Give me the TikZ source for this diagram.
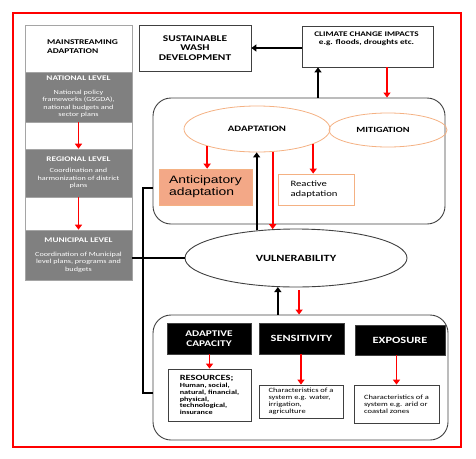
\documentclass[tikz,border=0pt]{standalone}
\usepackage{fontspec}
\setmainfont{Carlito}[FakeStretch=1.3]
\newfontfamily\arialx{Liberation Sans}[FakeStretch=1.3]
\usetikzlibrary{arrows.meta,shapes.geometric,calc}
\definecolor{redc}{RGB}{255,0,0}
\definecolor{grayfill}{RGB}{128,128,128}
\definecolor{graybd}{RGB}{165,165,165}
\definecolor{orangebd}{RGB}{244,177,131}
\definecolor{salmon}{RGB}{243,168,135}
\definecolor{darkbd}{RGB}{64,64,64}
\newcommand\fz[2]{\fontsize{#1}{#2}\selectfont}
\begin{document}
\begin{tikzpicture}[x=1pt,y=-1pt,
  redarr/.style={draw=redc,line width=1.8pt,-{Triangle[length=5pt,width=7pt]}},
  blkarr/.style={draw=black,line width=2pt,-{Triangle[length=5pt,width=7pt]}},
  blkline/.style={draw=black,line width=2pt},
  levelbox/.style={fill=grayfill,draw=graybd,line width=0.6pt,minimum width=107,minimum height=#1,inner sep=0,text=white,align=center,font=\fz{6.3}{7.5}},
  wbox/.style={draw=darkbd,line width=0.8pt,inner sep=0,fill=white},
  roundbox/.style={draw=darkbd,line width=0.9pt,rounded corners=18,inner sep=0},
  oell/.style={ellipse,draw=orangebd,line width=0.8pt,inner sep=0,font=\fz{8.3}{10}\bfseries},
  blackbox/.style={fill=black,draw=darkbd,text=white,inner sep=0,align=center,font=\fz{8.7}{10}\bfseries},
  txtbox/.style={draw=darkbd,line width=0.8pt,inner sep=0,align=left},
]
\path[use as bounding box] (0,0) rectangle (476,458);
\draw[redc,line width=2pt] (13,13) rectangle (461,447);

% left column
\node[draw=graybd,line width=0.8pt,minimum width=107,minimum height=255,inner sep=0] (col) at (78.5,152.5) {};
\node[anchor=west,align=left,inner sep=0,font=\fz{7.3}{9}\bfseries] (mainhdr) at (47,46.5) {MAINSTREAMING\\ADAPTATION};
\node[levelbox=50] (natl) at (78.5,97) {{\fz{7.1}{8}\bfseries NATIONAL LEVEL}\\[6pt]National policy\\frameworks (GSGDA),\\national budgets and\\sector plans};
\node[levelbox=48] (regl) at (78.5,173) {{\fz{7.1}{8}\bfseries REGIONAL LEVEL}\\[3.5pt]Coordination and\\harmonization of district\\plans};
\node[levelbox=50] (muni) at (78.5,255) {{\fz{7.1}{8}\bfseries MUNICIPAL LEVEL}\\[6pt]Coordination of Municipal\\level plans, programs and\\budgets};
\draw[redarr] (natl.south) -- (regl.north);
\draw[redarr] (regl.south) -- (muni.north);

% top boxes
\node[wbox,minimum width=112,minimum height=46,align=center,font=\fz{8.8}{9.7}\bfseries] (wash) at (195,48) {SUSTAINABLE\\WASH\\DEVELOPMENT};
\node[wbox,minimum width=131,minimum height=41] (climate) at (367.5,46.5) {};
\node[inner sep=0,align=center,font=\fz{7.1}{8}\bfseries] (climtxt) at (366.5,39) {CLIMATE CHANGE IMPACTS\\e.g. floods, droughts etc.};
\draw[blkarr] (climate.west |- wash.east) -- (wash.east);

% adaptation box
\node[roundbox,minimum width=292,minimum height=126] (bigbox) at (299,161) {};
\draw[blkarr] ([xshift=-49.5pt]climate.south |- bigbox.north) -- ([xshift=-49.5pt]climate.south);
\draw[redarr] ([xshift=19.5pt]climate.south) -- ([xshift=19.5pt]climate.south |- bigbox.north);

\node[oell,minimum width=146,minimum height=46] (adapt) at (257,129) {ADAPTATION};
\node[oell,minimum width=118,minimum height=34,font=\fz{7.9}{9}\bfseries] (mitig) at (388,130) {\hspace*{-10pt}MITIGATION};
\node[fill=salmon,draw=orangebd,line width=0.6pt,minimum width=93,minimum height=36,inner sep=0,align=left,font=\arialx\fz{10.7}{12}] (antic) at (205.5,187) {Anticipatory\\adaptation};
\node[draw=orangebd,line width=0.8pt,fill=white,minimum width=76,minimum height=31,inner sep=0,align=left,font=\fz{8.2}{10}] (react) at (316,189.5) {\hspace*{-4pt}Reactive\\\hspace*{-4pt}adaptation};
\draw[redarr] (adapt.199) -- (adapt.199 |- antic.north);
\draw[redarr] (adapt.345) -- (adapt.345 |- react.north);

% vulnerability
\node[ellipse,draw=darkbd,line width=0.9pt,minimum width=222,minimum height=58,inner sep=0,font=\fz{9.5}{11}\bfseries] (vuln) at (296,258) {VULNERABILITY};
\draw[blkarr] (vuln.145) -- (vuln.145 |- adapt.south);
\draw[redarr] (vuln.129 |- adapt.south) -- (vuln.129);

% bottom box
\node[roundbox,minimum width=295,minimum height=125] (bottom) at (300.5,377.5) {};
\draw[blkarr] (vuln.238 |- bottom.north) -- (vuln.238);
\draw[redarr] ([yshift=-3pt]vuln.276) -- (vuln.276 |- bottom.north);

% connector lines on the left
\coordinate (jtop) at ([yshift=-27pt]bigbox.west);
\coordinate (jbot) at ([yshift=-15.5pt]bottom.west);
\draw[blkline] (jtop) -- ++(-10,0) |- (jbot);
\draw[blkline] (muni.east |- vuln.west) -- (vuln.west);

\node[blackbox,minimum width=84,minimum height=31] (adcap) at (209,338.5) {ADAPTIVE\\CAPACITY};
\node[blackbox,minimum width=85,minimum height=31,font=\fz{9.5}{11}\bfseries] (sens) at (301.5,338.5) {SENSITIVITY};
\node[blackbox,minimum width=90,minimum height=30,font=\fz{9.5}{11}\bfseries] (expo) at (400,340) {EXPOSURE};

\node[txtbox,minimum width=83,minimum height=52,font=\fz{6.3}{6.8}\bfseries] (res) at (209.5,395) {{\fz{8}{9}RESOURCES;}\\Human, social,\\natural, financial,\\physical,\\technological,\\insurance\hspace*{12pt}};
\node[txtbox,minimum width=84,minimum height=33,font=\fz{6.5}{7}] (sensbox) at (301,401.5) {Characteristics of a\\system e.g. water,\\irrigation,\\agriculture};
\node[txtbox,minimum width=85,minimum height=38,font=\fz{6.5}{7}] (expobox) at (396.5,404) {Characteristics of a\\system e.g. arid or\\coastal zones};

\draw[redarr] (res.north |- adcap.south) -- (res.north);
\draw[redarr] (sensbox.north |- sens.south) -- (sensbox.north);
\draw[redarr] (expobox.north |- expo.south) -- (expobox.north);
\end{tikzpicture}
\end{document}
